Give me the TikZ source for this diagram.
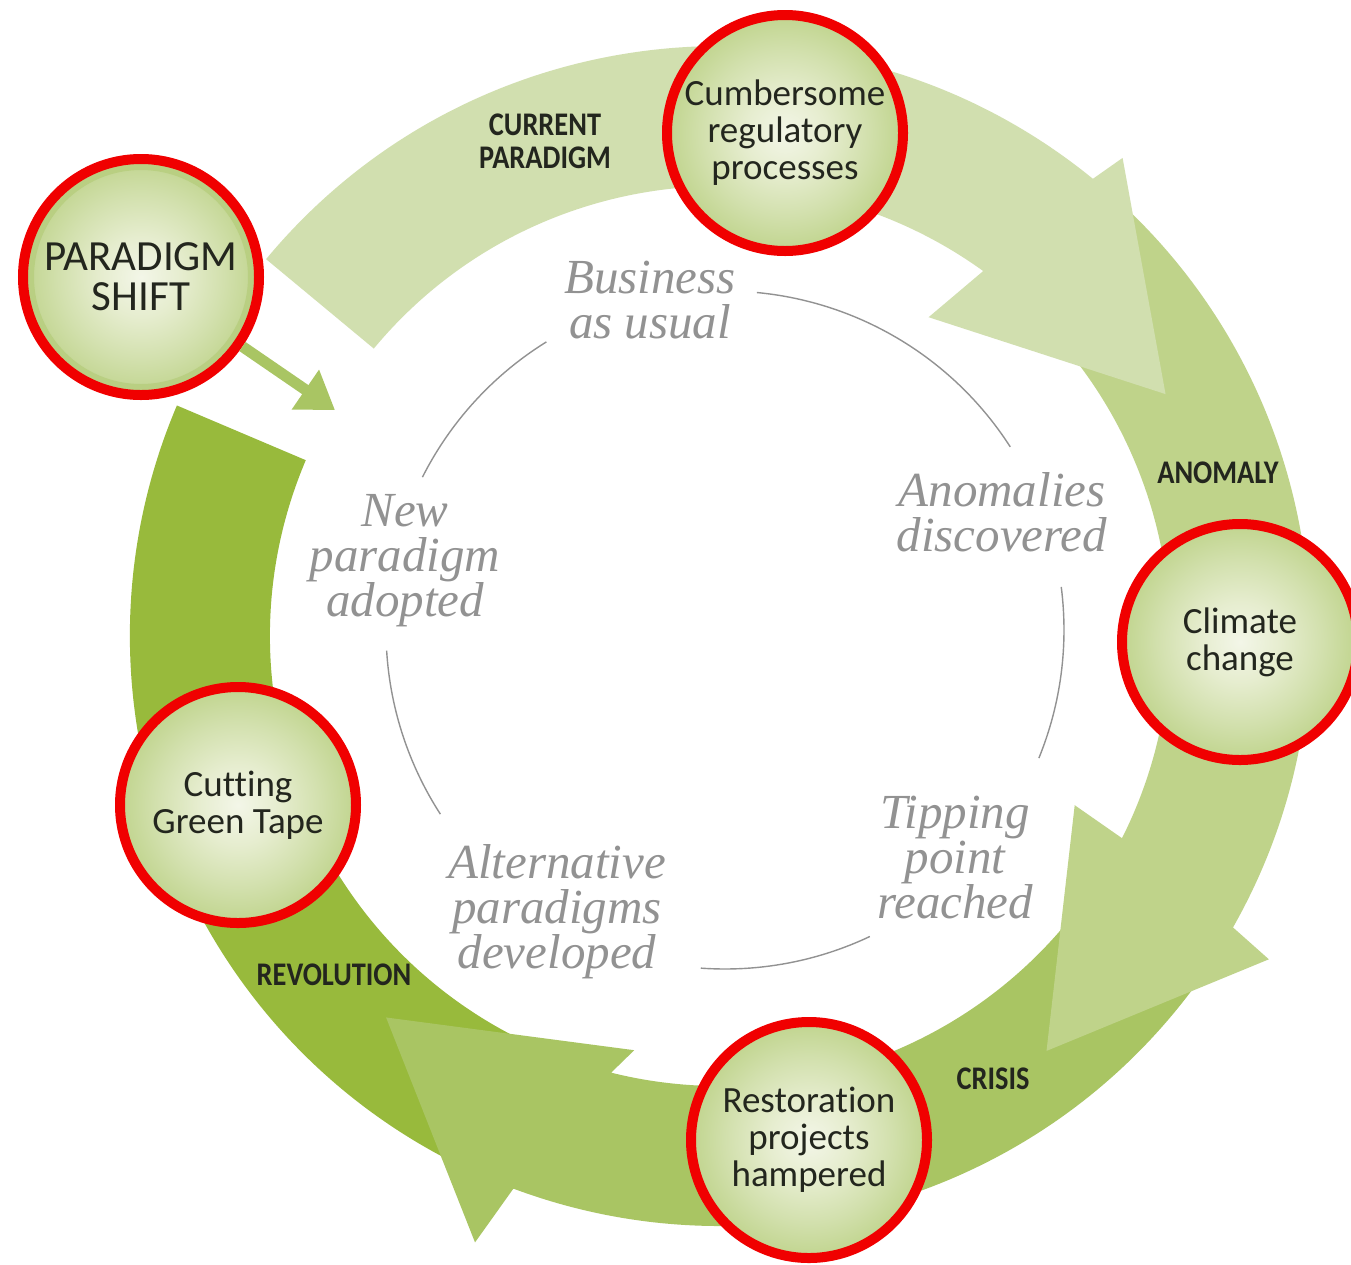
\documentclass[tikz,border=0pt]{standalone}
\usepackage{fontspec}
\usepackage{tikz}
\usetikzlibrary{arrows.meta}

\newfontfamily\bubblefont[Ligatures=NoCommon]{Carlito}
\newfontfamily\stagefont[FakeStretch=0.86]{Carlito}
\newfontfamily\phasefont{Liberation Serif}

\definecolor{ringA}{HTML}{D1DFAF}
\definecolor{ringB}{HTML}{BFD38A}
\definecolor{ringC}{HTML}{A9C563}
\definecolor{ringD}{HTML}{98BA3C}
\definecolor{rimred}{HTML}{F00000}
\definecolor{bubblerim}{HTML}{B9CF82}
\definecolor{bubbleIn}{HTML}{F3F6E8}
\definecolor{bubbleA}{HTML}{E6EDCF}
\definecolor{bubbleB}{HTML}{D2E0AD}
\definecolor{bubbleC}{HTML}{BDD288}
\definecolor{bubbleOut}{HTML}{A9C462}
\definecolor{inktext}{HTML}{23261E}
\definecolor{phasegray}{HTML}{929292}

\pgfdeclareradialshading{bubbleshade}{\pgfpoint{0bp}{0bp}}{color(0bp)=(bubbleIn); color(8.5bp)=(bubbleA); color(17.5bp)=(bubbleB); color(26.5bp)=(bubbleC); color(35bp)=(bubbleOut); color(50bp)=(bubbleOut)}

\begin{document}
\begin{tikzpicture}[x=1pt,y=1pt,
		bubble/.style={circle,draw=rimred,line width=10pt,minimum size=236pt,inner sep=0pt,shading=bubbleshade,
			align=center,text=inktext,font={\bubblefont\fontsize{37}{37}\selectfont}},
		shift bubble/.style={bubble,path picture={\draw[bubblerim,line width=6pt] (path picture bounding box.center) circle[radius=110pt];},
			font={\bubblefont\fontsize{43}{40}\selectfont}},
		stage/.style={align=center,text=inktext,font={\stagefont\bfseries\fontsize{33}{33}\selectfont}},
		phase/.style={align=center,text=phasegray,font={\phasefont\itshape\fontsize{49}{45}\selectfont\lineskiplimit=-50pt\relax}},
		cycle arc/.style={draw=phasegray,line width=1.4pt},
		shift arrow/.style={draw=ringC,line width=11pt,-{Triangle[length=36pt,width=46pt]}}]
		\fill[white] (0,0) rectangle (1351,-1264);
		\useasboundingbox (0,0) rectangle (1351,-1264);

		\begin{scope}[shift={(720,-636)}]
		\fill[ringD] (157:590) arc[start angle=157,end angle=245,radius=590] -- (245:450) arc[start angle=245,end angle=157,radius=450] -- cycle;
		\fill[ringC] (-36:590) arc[start angle=-36,end angle=-110.5,radius=590] -- (-112:654) -- (-131.2:507) -- (-101.7:423) -- (-104:450) arc[start angle=-104,end angle=-36,radius=450] -- cycle;
		\fill[ringB] (47:590) arc[start angle=47,end angle=-29.6,radius=590] -- (-30.5:637) -- (-51.8:528) -- (-25.5:393) -- (-26.7:450) arc[start angle=-26.7,end angle=47,radius=450] -- cycle;
		\fill[ringA] (140.3:590) arc[start angle=140.3,end angle=50.8,radius=590] -- (49.9:625) -- (28.5:507) -- (56.8:381) -- (54.2:450) arc[start angle=54.2,end angle=140.3,radius=450] -- cycle;
		\end{scope}

		\coordinate (hub) at (725,-630);
		\draw[cycle arc] ([shift={(153.2:339)}]hub) arc[start angle=153.2,end angle=121.8,radius=339];
		\draw[cycle arc] ([shift={(84.6:339)}]hub) arc[start angle=84.6,end angle=32.7,radius=339];
		\draw[cycle arc] ([shift={(7.3:339)}]hub) arc[start angle=7.3,end angle=-22.2,radius=339];
		\draw[cycle arc] ([shift={(-64.7:339)}]hub) arc[start angle=-64.7,end angle=-94.1,radius=339];
		\draw[cycle arc] ([shift={(183.5:339)}]hub) arc[start angle=183.5,end angle=212.9,radius=339];

		\node[phase] (usual) at (650,-300) {Business\\as usual};
		\node[phase] (anomalies) at (1002,-512) {Anomalies\\discovered};
		\node[phase] (tipping) at (955,-858) {Tipping\\point\\reached};
		\node[phase] (alternatives) at (557,-912) {Alternative\\paradigms\\developed};
		\node[phase] (adopted) at (405,-561) {New\\paradigm\\adopted};

		\node[stage] (current) at (545,-141) {CURRENT\\PARADIGM};
		\node[stage] (anomaly) at (1218,-473) {ANOMALY};
		\node[stage] (crisis) at (993,-1079) {CRISIS};
		\node[stage] (revolution) at (334,-975) {REVOLUTION};

		\node[bubble] (regs) at (785,-133) {Cumbersome\\regulatory\\processes};
		\node[bubble] (climate) at (1240,-642) {Climate\\change};
		\node[bubble] (restore) at (809,-1140) {Restoration\\projects\\hampered};
		\node[bubble] (tape) at (238,-805) {Cutting\\Green Tape};
		\node[shift bubble] (shift) at (141,-277) {PARADIGM\\SHIFT};

		\coordinate (shifttip) at (335,-410);
		\path (shift) edge[shift arrow] (shifttip);
\end{tikzpicture}
\end{document}
